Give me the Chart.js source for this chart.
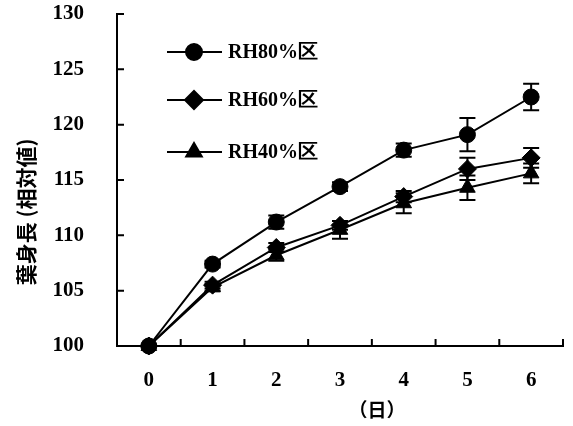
<!DOCTYPE html>
<html><head><meta charset="utf-8">
<script src="https://cdn.jsdelivr.net/npm/chart.js@4.4.1/dist/chart.umd.min.js"></script>
<style>html,body{margin:0;padding:0;background:#fff;} canvas{display:block;}</style>
</head><body>
<canvas id="c" width="573" height="426"></canvas>
<script>
const days = ['0', '1', '2', '3', '4', '5', '6'];
const rh80 = [100, 107.4, 111.2, 114.4, 117.7, 119.1, 122.5];
const rh60 = [100, 105.5, 108.9, 110.9, 113.5, 116.0, 117.0];
const rh40 = [100, 105.3, 108.2, 110.5, 112.9, 114.3, 115.6];
const err80 = [0, 0.3, 0.6, 0.4, 0.6, 1.5, 1.2];
const err60 = [0, 0.3, 0.4, 0.4, 0.5, 1.0, 0.9];
const err40 = [0, 0.3, 0.5, 0.8, 0.9, 1.1, 0.9];
const seriesLabels = ['RH80%区', 'RH60%区', 'RH40%区'];
const yTicks = [100, 105, 110, 115, 120, 125, 130];
const yTitle = '葉身長 (相対値)';
const xTitle = '（日）';

const pointStyles = ['circle', 'rectRot', 'triangle'];
const pointSizes = [8, 9, 9];
const values = [rh80, rh60, rh40];
const errors = [err80, err60, err40];

const tickFont = {family: 'Liberation Serif', weight: 'bold', size: 21};

const deco = {
  id: 'deco',
  beforeDatasetsDraw(chart) {
    const ctx = chart.ctx, ys = chart.scales.y;
    ctx.save();
    ctx.strokeStyle = '#000'; ctx.lineWidth = 2;
    chart.data.datasets.forEach((ds, di) => {
      const meta = chart.getDatasetMeta(di);
      meta.data.forEach((pt, i) => {
        const e = errors[di][i];
        if (!e) return;
        const v = ds.data[i];
        const yTop = ys.getPixelForValue(v + e), yBot = ys.getPixelForValue(v - e);
        ctx.beginPath();
        ctx.moveTo(pt.x, yTop); ctx.lineTo(pt.x, yBot);
        ctx.moveTo(pt.x - 8, yTop); ctx.lineTo(pt.x + 8, yTop);
        ctx.moveTo(pt.x - 8, yBot); ctx.lineTo(pt.x + 8, yBot);
        ctx.stroke();
      });
    });
    ctx.restore();
  },
  afterDraw(chart) {
    const ctx = chart.ctx, a = chart.chartArea, ys = chart.scales.y, xs = chart.scales.x;
    ctx.save();
    ctx.strokeStyle = '#000'; ctx.lineWidth = 2;
    // inward tick marks
    ctx.beginPath();
    yTicks.forEach(v => {
      const y = ys.getPixelForValue(v);
      ctx.moveTo(a.left, y); ctx.lineTo(a.left + 7, y);
    });
    const n = days.length;
    const step = xs.getPixelForValue(1) - xs.getPixelForValue(0);
    for (let i = 1; i <= n; i++) {
      const x = xs.getPixelForValue(i - 1) + step / 2;
      ctx.moveTo(x, a.bottom); ctx.lineTo(x, a.bottom - 7);
    }
    ctx.stroke();
    // legend
    const rows = [52, 100, 152];
    chart.data.datasets.forEach((ds, di) => {
      const y = rows[di];
      ctx.beginPath(); ctx.lineWidth = 2; ctx.strokeStyle = '#000';
      ctx.moveTo(167, y); ctx.lineTo(222, y); ctx.stroke();
      ctx.fillStyle = '#000';
      Chart.helpers.drawPoint(ctx, {pointStyle: pointStyles[di], radius: pointSizes[di], borderWidth: 1}, 194, y);
      ctx.fillStyle = '#000';
      ctx.font = 'bold 20px "Liberation Serif"';
      ctx.textAlign = 'left'; ctx.textBaseline = 'middle';
      ctx.fillText(ds.label, 228, y + 1);
    });
    // titles
    ctx.fillStyle = '#000';
    ctx.font = 'bold 19px "Noto Sans CJK JP"';
    ctx.textAlign = 'center'; ctx.textBaseline = 'middle';
    ctx.fillText(xTitle, 377, 410);
    ctx.font = 'bold 21px "Noto Sans CJK JP"';
    ctx.translate(26, 212);
    ctx.rotate(-Math.PI / 2);
    ctx.fillText(yTitle, 0, 0);
    ctx.restore();
  }
};

new Chart(document.getElementById('c'), {
  type: 'line',
  data: {
    labels: days,
    datasets: values.map((vals, i) => ({
      label: seriesLabels[i],
      data: vals,
      borderColor: '#000',
      backgroundColor: '#000',
      borderWidth: 2,
      pointStyle: pointStyles[i],
      pointRadius: pointSizes[i],
      pointBackgroundColor: '#000',
      pointBorderColor: '#000',
      pointBorderWidth: 1,
      tension: 0,
      clip: false
    }))
  },
  options: {
    responsive: false,
    animation: false,
    events: [],
    layout: {padding: {top: 14, right: 6, left: 0, bottom: 0}},
    plugins: {legend: {display: false}, tooltip: {enabled: false}},
    scales: {
      x: {
        offset: true,
        grid: {display: true, drawOnChartArea: false, drawTicks: false, offset: true},
        border: {display: true, color: '#000', width: 2},
        ticks: {color: '#000', font: tickFont, padding: 22, maxRotation: 0},
        afterFit: s => { s.height = 80; s.paddingLeft = 0; s.paddingRight = 0; }
      },
      y: {
        min: 100, max: 130,
        grid: {display: true, drawOnChartArea: false, drawTicks: false},
        border: {display: true, color: '#000', width: 2},
        ticks: {color: '#000', font: tickFont, padding: 33},
        afterBuildTicks: s => { s.ticks = yTicks.map(v => ({value: v})); },
        afterFit: s => { s.width = 117; s.paddingTop = 0; s.paddingBottom = 0; }
      }
    }
  },
  plugins: [deco]
});
</script>
</body></html>
